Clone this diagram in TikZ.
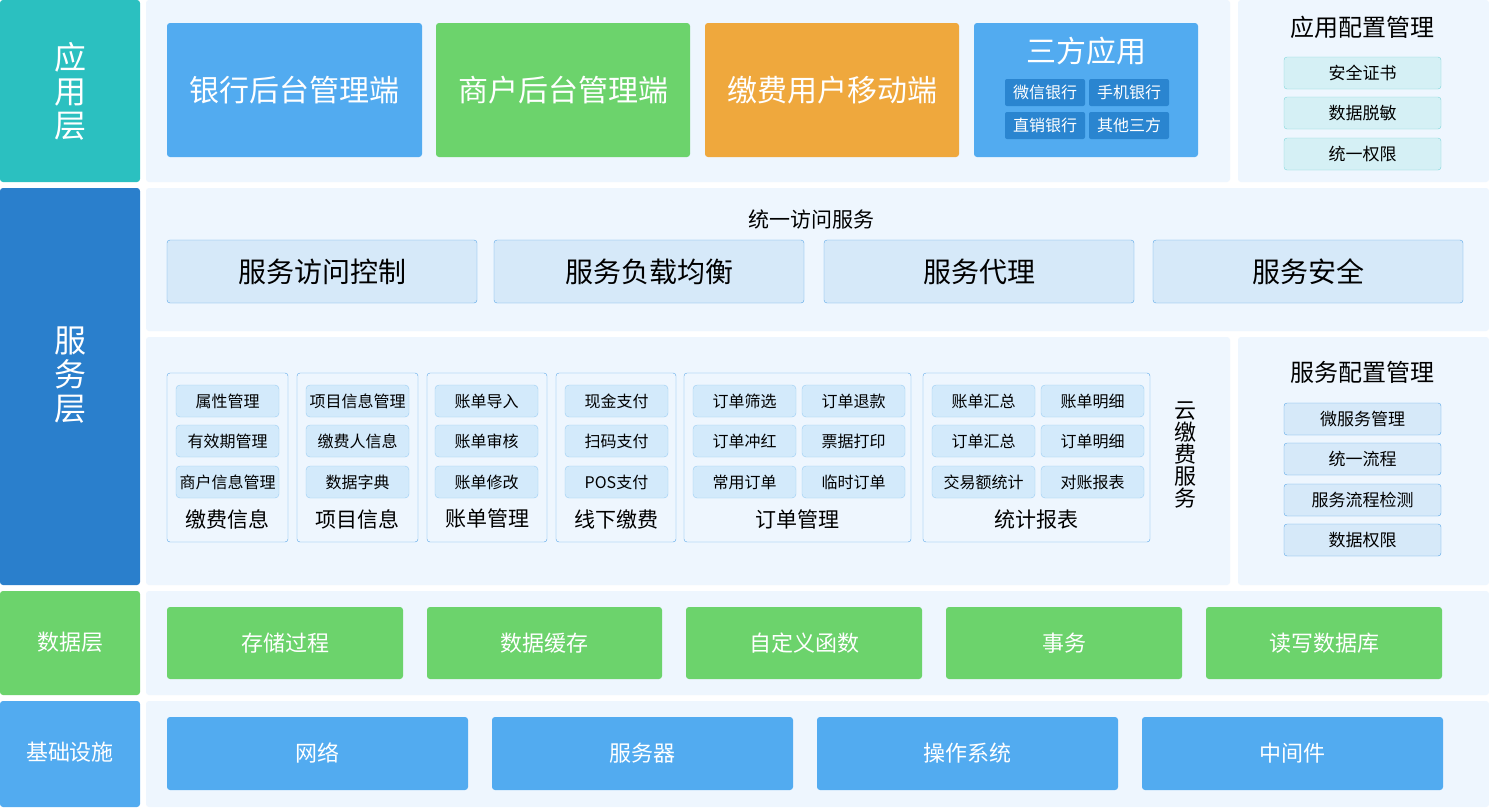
\documentclass[tikz,border=0pt]{standalone}
\usepackage{fontspec}
\setmainfont{Noto Sans CJK SC}
\definecolor{teal1}{HTML}{2BC0C0}
\definecolor{blueD}{HTML}{2A7FCC}
\definecolor{greenA}{HTML}{6CD36C}
\definecolor{blueA}{HTML}{52ABF0}
\definecolor{orangeA}{HTML}{EFA83D}
\definecolor{panel}{HTML}{EEF6FE}
\definecolor{subD}{HTML}{2A85D0}
\definecolor{cfgF}{HTML}{D5F0F5}
\definecolor{cfgB}{HTML}{7FD7DC}
\definecolor{accF}{HTML}{D6E9F9}
\definecolor{accB}{HTML}{5DA8E8}
\definecolor{itF}{HTML}{D3EAFB}
\definecolor{itB}{HTML}{9ACDF3}
\begin{document}
\begin{tikzpicture}[x=1pt,y=-1pt,
 bx/.style={rounded corners=3pt},
 fs/.style={font=\fontsize{#1}{#1}\selectfont}]
\useasboundingbox (0,0) rectangle (1489,807);
\fill[white] (0,0) rectangle (1489,807);
\newcommand\RB[6]{\draw[bx,#6] (#1,#2) rectangle (#3,#4) node[midway,#5]{};}
% left labels
\fill[bx,teal1] (0,0) rectangle (140,182); \node[white,fs=32,align=center] (l1) at (70,91) {应\\[2pt]用\\[2pt]层};
\fill[bx,blueD] (0,188) rectangle (140,585); \node[white,fs=32,align=center] (l2) at (70,375) {服\\[2pt]务\\[2pt]层};
\fill[bx,greenA] (0,591) rectangle (140,695); \node[white,fs=22] (l3) at (70,642) {数据层};
\fill[bx,blueA] (0,701) rectangle (140,807); \node[white,fs=22] (l4) at (70,752) {基础设施};
% panels
\foreach \a/\b/\c/\d in {146/0/1230/182,1238/0/1489/182,146/188/1489/331,146/337/1230/585,1238/337/1489/585,146/591/1489/695,146/701/1489/807}
 \fill[bx,panel] (\a,\b) rectangle (\c,\d);
% app boxes
\fill[bx,blueA] (167,23) rectangle (422,157); \node[white,fs=30] (a1) at (294.5,90) {银行后台管理端};
\fill[bx,greenA] (436,23) rectangle (690,157); \node[white,fs=30] (a2) at (563,90) {商户后台管理端};
\fill[bx,orangeA] (705,23) rectangle (959,157); \node[white,fs=30] (a3) at (832,90) {缴费用户移动端};
\fill[bx,blueA] (974,23) rectangle (1198,157); \node[white,fs=30] (a4) at (1086,51) {三方应用};
\foreach \x/\y/\t [count=\i] in {1005/79/微信银行,1089/79/手机银行,1005/112/直销银行,1089/112/其他三方}{
 \fill[rounded corners=2pt,subD] (\x,\y) rectangle (\x+80,\y+27);
 \node[white,fs=16] (s\i) at (\x+40,\y+13.5) {\t};}
% app config
\node[fs=24] (ct1) at (1362,27) {应用配置管理};
\foreach \y/\t [count=\i] in {57/安全证书,97/数据脱敏,138/统一权限}{
 \draw[bx,fill=cfgF,draw=cfgB] (1284,\y) rectangle (1441,\y+32);
 \node[fs=17] (c\i) at (1362.5,\y+16) {\t};}
% unified access
\node[fs=21] (ua) at (811,219) {统一访问服务};
\foreach \x/\t [count=\i] in {167/服务访问控制,494/服务负载均衡,824/服务代理,1153/服务安全}{
 \draw[bx,fill=accF,draw=accB] (\x,240) rectangle (\x+310,303);
 \node[fs=28] (u\i) at (\x+155,271.5) {\t};}
% groups
\foreach \a/\b/\t [count=\i] in {167/288/缴费信息,297/418/项目信息,427/547/账单管理,556/676/线下缴费,684/911/订单管理,923/1150/统计报表}{
 \draw[bx,draw=accB,fill=panel] (\a,373) rectangle (\b,542);
 \node[fs=21] (g\i) at ({(\a+\b)/2},519) {\t};}
\newcommand\It[4]{\draw[rounded corners=4pt,fill=itF,draw=itB] (#1,#2) rectangle (#3,#2+32); \node[fs=16] (#4) at ({(#1+#3)/2},#2+16) {};}
\foreach \a/\b/\col [count=\k] in {176/279/{属性管理,有效期管理,商户信息管理},306/409/{项目信息管理,缴费人信息,数据字典},435/538/{账单导入,账单审核,账单修改},565/668/{现金支付,扫码支付,POS支付},693/796/{订单筛选,订单冲红,常用订单},802/905/{订单退款,票据打印,临时订单},932/1035/{账单汇总,订单汇总,交易额统计},1041/1144/{账单明细,订单明细,对账报表}}{
 \foreach \t/\y [count=\j] in \col {}
}
\foreach \a/\b/\ta/\tb/\tc [count=\k] in {176/279/属性管理/有效期管理/商户信息管理,306/409/项目信息管理/缴费人信息/数据字典,435/538/账单导入/账单审核/账单修改,565/668/现金支付/扫码支付/POS支付,693/796/订单筛选/订单冲红/常用订单,802/905/订单退款/票据打印/临时订单,932/1035/账单汇总/订单汇总/交易额统计,1041/1144/账单明细/订单明细/对账报表}{
 \draw[rounded corners=4pt,fill=itF,draw=itB] (\a,385) rectangle (\b,417); \node[fs=16] (i\k a) at ({(\a+\b)/2},401) {\ta};
 \draw[rounded corners=4pt,fill=itF,draw=itB] (\a,425) rectangle (\b,457); \node[fs=16] (i\k b) at ({(\a+\b)/2},441) {\tb};
 \draw[rounded corners=4pt,fill=itF,draw=itB] (\a,466) rectangle (\b,498); \node[fs=16] (i\k c) at ({(\a+\b)/2},482) {\tc};}
\node[fs=22,align=center,inner sep=0pt] (yun) at (1185,455) {云\\缴\\费\\服\\务};
% service config
\node[fs=24] (ct2) at (1362,372) {服务配置管理};
\foreach \y/\t [count=\i] in {403/微服务管理,443/统一流程,484/服务流程检测,524/数据权限}{
 \draw[bx,fill=accF,draw=accB] (1284,\y) rectangle (1441,\y+32);
 \node[fs=17] (d\i) at (1362.5,\y+16) {\t};}
% data
\foreach \a/\b/\t [count=\i] in {167/403/存储过程,427/662/数据缓存,686/922/自定义函数,946/1182/事务,1206/1442/读写数据库}{
 \fill[bx,greenA] (\a,607) rectangle (\b,679);
 \node[white,fs=22] (e\i) at ({(\a+\b)/2},643) {\t};}
% infra
\foreach \a/\b/\t [count=\i] in {167/468/网络,492/793/服务器,817/1118/操作系统,1142/1443/中间件}{
 \fill[bx,blueA] (\a,717) rectangle (\b,790);
 \node[white,fs=22] (f\i) at ({(\a+\b)/2},753) {\t};}
\end{tikzpicture}
\end{document}
